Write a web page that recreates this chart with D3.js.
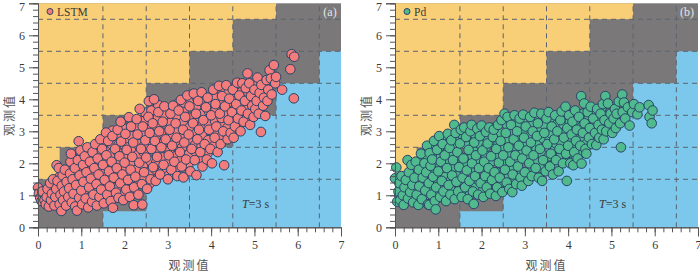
<!DOCTYPE html>
<html>
<head>
<meta charset="utf-8">
<script src="https://cdnjs.cloudflare.com/ajax/libs/d3/7.8.5/d3.min.js"></script>
<style>
  body { margin: 0; background: #fff; }
  text { font-family: "Liberation Serif", serif; fill: #3a3a3a; }
  .cjk { font-family: "Noto Sans CJK SC", sans-serif; font-size: 12px; fill: #555; letter-spacing: 2px; }
  .axis path, .axis line { stroke: #555; }
</style>
</head>
<body>
<svg id="chart" width="700" height="272"></svg>
<script>
var lstmPoints = [
  [0.0,1.24],[0.02,1.05],[0.05,0.92],[0.08,0.82],[0.1,1.12],[0.15,0.85],[0.18,0.72],[0.2,0.95],[0.22,1.2],[0.25,0.65],
  [0.28,1.38],[0.3,0.85],[0.32,1.05],[0.35,1.5],[0.38,0.68],[0.4,0.95],[0.42,1.2],[0.43,1.94],[0.45,1.45],[0.48,1.85],
  [0.5,0.72],[0.52,1.02],[0.54,0.51],[0.55,1.3],[0.57,1.62],[0.58,0.85],[0.6,1.12],[0.62,1.8],[0.65,0.68],[0.66,1.42],
  [0.7,0.95],[0.72,1.22],[0.74,1.68],[0.75,2.05],[0.76,2.3],[0.78,0.78],[0.8,1.5],[0.82,1.05],[0.85,1.85],[0.86,0.65],
  [0.88,1.32],[0.9,0.52],[0.92,2.1],[0.94,2.69],[0.95,0.92],[0.96,1.62],[0.98,2.4],[1.0,1.15],[1.02,0.72],[1.04,1.95],
  [1.05,1.42],[1.08,2.22],[1.1,0.9],[1.12,1.72],[1.14,2.5],[1.16,0.62],[1.18,1.25],[1.2,2.05],[1.22,1.52],[1.25,0.8],
  [1.26,2.35],[1.28,1.02],[1.3,1.85],[1.32,2.6],[1.35,1.35],[1.36,0.68],[1.38,2.15],[1.4,1.65],[1.42,0.95],[1.44,2.75],
  [1.46,1.18],[1.48,2.45],[1.5,1.95],[1.52,0.75],[1.54,1.48],[1.57,2.96],[1.58,2.25],[1.6,1.02],[1.62,2.7],[1.64,1.75],
  [1.66,1.28],[1.68,0.82],[1.7,2.05],[1.72,2.85],[1.73,0.61],[1.75,1.55],[1.78,2.45],[1.8,1.08],[1.82,1.85],[1.84,3.05],
  [1.86,0.92],[1.88,2.22],[1.9,1.38],[1.91,3.3],[1.92,2.68],[1.95,1.65],[1.97,0.85],[2.0,2.02],[2.02,2.92],[2.04,1.18],
  [2.05,2.42],[2.08,1.48],[2.1,3.44],[2.12,0.95],[2.14,1.8],[2.15,3.15],[2.18,2.2],[2.2,2.65],[2.21,0.69],[2.22,1.25],
  [2.25,1.58],[2.28,3.38],[2.3,2.9],[2.32,1.02],[2.34,2.02],[2.35,3.7],[2.38,2.45],[2.4,1.35],[2.41,0.71],[2.42,3.15],
  [2.45,1.72],[2.48,2.72],[2.5,2.18],[2.52,1.2],[2.55,3.45],[2.56,3.94],[2.58,2.95],[2.6,1.5],[2.62,2.45],[2.65,3.25],
  [2.66,1.88],[2.68,4.0],[2.7,2.7],[2.72,1.45],[2.75,2.2],[2.78,3.6],[2.8,3.0],[2.82,1.65],[2.85,2.5],[2.88,3.3],
  [2.9,1.95],[2.92,3.78],[2.95,2.75],[3.0,1.5],[3.02,2.25],[3.04,3.05],[3.06,3.55],[3.08,1.8],[3.1,2.55],[3.12,3.8],
  [3.15,2.05],[3.18,3.25],[3.2,2.8],[3.22,1.6],[3.25,3.65],[3.28,2.35],[3.3,3.98],[3.32,1.9],[3.35,3.05],[3.36,1.56],
  [3.38,2.65],[3.4,3.45],[3.42,2.12],[3.45,4.12],[3.48,2.9],[3.5,3.78],[3.52,1.75],[3.55,2.45],[3.58,3.25],[3.6,4.18],
  [3.62,2.1],[3.65,3.55],[3.66,1.63],[3.68,2.75],[3.7,3.95],[3.72,3.05],[3.75,2.35],[3.78,4.22],[3.8,1.9],[3.82,3.35],
  [3.85,2.6],[3.88,3.75],[3.9,2.12],[3.92,4.05],[3.95,3.05],[3.98,2.45],[4.0,3.5],[4.02,2.0],[4.05,4.3],[4.08,2.8],
  [4.1,3.85],[4.12,3.15],[4.15,2.35],[4.18,4.42],[4.2,3.55],[4.22,2.6],[4.25,4.1],[4.28,3.0],[4.3,1.94],[4.32,3.78],
  [4.35,4.44],[4.38,2.75],[4.4,3.35],[4.42,4.02],[4.45,2.95],[4.48,3.6],[4.5,4.3],[4.52,2.8],[4.55,3.15],[4.58,3.85],
  [4.6,4.52],[4.62,3.4],[4.65,4.12],[4.68,3.0],[4.7,3.65],[4.72,4.5],[4.75,3.3],[4.78,3.95],[4.8,4.35],[4.84,4.81],
  [4.85,3.55],[4.88,4.5],[4.9,3.2],[4.92,4.1],[4.95,3.8],[4.98,3.45],[5.0,4.3],[5.02,3.7],[5.05,3.95],[5.07,4.68],
  [5.1,3.55],[5.12,4.2],[5.15,2.98],[5.16,4.45],[5.2,3.8],[5.22,4.05],[5.25,3.48],[5.28,4.6],[5.3,3.95],[5.32,4.3],
  [5.35,4.91],[5.38,4.65],[5.4,4.15],[5.45,5.07],[5.48,4.5],[5.5,4.7],[5.64,4.3],[5.83,4.94],[5.86,5.41],[5.91,4.03],
  [5.92,5.33]
];
// points hidden inside the dense part of the cloud, drawn underneath
var lstmInner = [
  [0.12,1.0],[0.27,0.78],[0.3,1.22],[0.45,0.82],[0.47,1.08],[0.5,1.58],[0.62,0.95],[0.63,1.25],[0.65,1.55],[0.68,0.8],
  [0.77,1.1],[0.8,1.35],[0.82,1.72],[0.84,2.0],[0.85,0.82],[0.92,1.0],[0.93,1.25],[0.95,1.48],[0.97,1.8],[0.99,2.2],
  [1.07,0.8],[1.08,1.05],[1.09,1.3],[1.1,1.58],[1.11,1.85],[1.12,2.35],[1.22,0.95],[1.23,1.2],[1.24,1.42],[1.25,1.7],
  [1.26,1.98],[1.27,2.22],[1.28,2.48],[1.37,0.85],[1.38,1.1],[1.39,1.55],[1.4,1.82],[1.41,2.05],[1.42,2.32],[1.43,2.6],
  [1.52,1.02],[1.53,1.28],[1.54,1.7],[1.55,2.1],[1.56,2.38],[1.57,2.68],[1.58,2.85],[1.67,1.02],[1.68,1.5],[1.69,1.82],
  [1.7,2.3],[1.71,2.58],[1.72,3.02],[1.82,1.25],[1.83,1.62],[1.84,2.05],[1.85,2.35],[1.86,2.58],[1.87,2.88],[1.97,1.05],
  [1.98,1.4],[1.99,1.82],[2.0,2.25],[2.01,2.55],[2.02,2.78],[2.03,3.08],[2.12,1.18],[2.13,1.62],[2.14,2.02],[2.15,2.4],
  [2.16,2.85],[2.17,3.28],[2.27,1.35],[2.28,1.8],[2.29,2.25],[2.3,2.6],[2.31,3.12],[2.42,1.55],[2.43,1.95],[2.44,2.35],
  [2.45,2.55],[2.46,2.95],[2.47,3.35],[2.48,3.58],[2.57,1.35],[2.58,1.72],[2.59,2.08],[2.6,2.72],[2.61,3.12],[2.62,3.65],
  [2.72,1.8],[2.73,2.02],[2.74,2.48],[2.75,2.88],[2.76,3.15],[2.77,3.42],[2.78,3.82],[2.87,1.75],[2.88,2.18],[2.89,2.62],
  [2.9,2.92],[2.91,3.52],[3.02,1.62],[3.03,2.05],[3.04,2.42],[3.05,2.68],[3.06,2.92],[3.07,3.28],[3.08,3.68],[3.17,1.78],
  [3.18,2.22],[3.19,2.58],[3.2,3.02],[3.21,3.48],[3.22,3.85],[3.32,2.15],[3.33,2.5],[3.34,2.82],[3.35,3.28],[3.36,3.62],
  [3.37,3.9],[3.47,1.92],[3.48,2.28],[3.49,2.68],[3.5,3.12],[3.51,3.42],[3.52,4.0],[3.62,2.38],[3.63,2.58],[3.64,2.92],
  [3.65,3.28],[3.66,3.78],[3.67,4.05],[3.77,2.15],[3.78,2.55],[3.79,2.88],[3.8,3.18],[3.81,3.55],[3.82,3.9],[3.92,2.32],
  [3.93,2.72],[3.94,3.25],[3.95,3.62],[3.96,3.9],[4.07,2.55],[4.08,3.0],[4.09,3.32],[4.1,3.65],[4.11,4.05],[4.22,2.82],
  [4.23,3.22],[4.24,3.42],[4.25,3.88],[4.26,4.28],[4.37,2.92],[4.38,3.12],[4.39,3.58],[4.4,3.9],[4.41,4.25],[4.52,3.0],
  [4.53,3.35],[4.54,3.68],[4.55,4.02],[4.56,4.4],[4.67,3.22],[4.68,3.5],[4.69,3.8],[4.7,4.22],[4.82,3.42],[4.83,3.72],
  [4.84,4.0],[4.85,4.22],[4.97,3.62],[4.98,4.12],[4.99,4.42],[5.12,3.72],[5.13,3.98],[5.14,4.35]
];
var pdPoints = [
  [0.0,1.53],[0.03,1.87],[0.05,0.8],[0.08,1.12],[0.1,1.38],[0.12,0.85],[0.15,1.6],[0.18,1.0],[0.2,0.7],[0.22,1.25],
  [0.25,1.48],[0.29,2.1],[0.3,0.9],[0.32,1.72],[0.35,1.1],[0.38,1.95],[0.4,1.32],[0.42,0.78],[0.45,1.55],[0.48,2.05],
  [0.5,1.02],[0.54,0.7],[0.55,1.8],[0.56,1.28],[0.6,2.3],[0.62,0.88],[0.64,1.55],[0.68,2.0],[0.7,1.15],[0.72,1.72],
  [0.74,2.55],[0.76,0.72],[0.78,1.38],[0.79,0.7],[0.8,2.32],[0.82,1.92],[0.84,1.02],[0.86,2.12],[0.88,1.58],[0.9,2.7],
  [0.92,0.82],[0.94,0.56],[0.95,1.25],[0.97,2.42],[1.0,1.75],[1.02,2.85],[1.04,0.95],[1.06,2.05],[1.08,1.45],[1.1,2.6],
  [1.12,1.12],[1.15,2.25],[1.18,0.82],[1.2,1.85],[1.22,2.92],[1.24,1.32],[1.26,2.48],[1.28,1.02],[1.3,2.72],[1.32,1.62],
  [1.34,2.1],[1.37,3.2],[1.38,0.88],[1.4,2.95],[1.42,1.42],[1.44,2.35],[1.46,1.12],[1.48,1.88],[1.5,2.62],[1.52,3.05],
  [1.54,0.95],[1.56,1.55],[1.58,2.15],[1.6,3.12],[1.62,1.25],[1.64,2.82],[1.66,1.78],[1.68,0.88],[1.7,2.42],[1.72,1.45],
  [1.74,3.0],[1.77,3.2],[1.78,2.0],[1.8,1.12],[1.82,0.73],[1.83,2.65],[1.85,1.6],[1.87,2.25],[1.9,3.08],[1.92,1.02],
  [1.94,1.85],[1.96,2.85],[1.98,1.38],[2.0,3.18],[2.02,2.4],[2.04,0.95],[2.06,2.05],[2.08,1.6],[2.1,2.98],[2.12,1.25],
  [2.14,2.62],[2.16,1.85],[2.18,3.12],[2.2,1.05],[2.22,2.22],[2.24,1.48],[2.26,2.82],[2.28,3.05],[2.3,1.72],[2.33,0.98],
  [2.34,2.45],[2.36,1.25],[2.38,3.2],[2.4,2.02],[2.42,1.55],[2.44,2.7],[2.46,3.35],[2.48,1.1],[2.5,2.25],[2.53,3.55],
  [2.54,1.8],[2.56,2.95],[2.58,1.4],[2.6,3.45],[2.62,2.5],[2.64,1.2],[2.66,2.05],[2.68,3.2],[2.71,1.1],[2.72,1.65],
  [2.74,2.75],[2.76,3.5],[2.78,2.25],[2.8,1.35],[2.82,3.0],[2.84,1.9],[2.86,2.55],[2.88,3.4],[2.9,1.55],[2.93,1.3],
  [2.94,2.15],[2.96,3.52],[2.98,2.8],[3.0,1.72],[3.02,3.15],[3.04,2.4],[3.08,1.45],[3.1,2.0],[3.12,3.45],[3.14,2.65],
  [3.16,1.6],[3.18,3.0],[3.2,2.25],[3.22,3.58],[3.25,1.85],[3.28,2.85],[3.3,3.25],[3.32,1.55],[3.35,2.45],[3.38,3.55],
  [3.4,1.45],[3.42,2.1],[3.45,2.95],[3.48,1.75],[3.5,3.4],[3.52,2.6],[3.55,3.6],[3.58,1.9],[3.6,2.3],[3.62,3.15],
  [3.65,1.65],[3.68,2.75],[3.7,3.5],[3.72,2.1],[3.75,3.0],[3.78,1.75],[3.8,2.45],[3.82,3.35],[3.85,3.62],[3.88,2.0],
  [3.9,2.8],[3.94,3.77],[3.95,2.3],[3.97,1.45],[3.98,3.1],[4.0,2.55],[4.02,3.5],[4.05,2.0],[4.08,2.9],[4.1,3.3],
  [4.12,1.94],[4.14,2.35],[4.16,3.65],[4.18,2.7],[4.2,3.05],[4.22,2.15],[4.25,3.45],[4.28,2.55],[4.3,4.1],[4.31,1.99],
  [4.34,2.95],[4.37,3.87],[4.38,3.25],[4.4,2.45],[4.42,2.3],[4.45,3.6],[4.48,2.8],[4.5,3.1],[4.52,3.77],[4.55,2.6],
  [4.58,3.4],[4.62,2.95],[4.65,2.57],[4.67,3.7],[4.7,3.2],[4.72,2.8],[4.75,3.55],[4.78,3.05],[4.8,3.85],[4.82,2.75],
  [4.84,3.35],[4.86,4.1],[4.88,3.0],[4.92,3.87],[4.95,3.25],[4.98,3.55],[5.02,2.95],[5.05,3.4],[5.08,3.7],[5.1,3.1],
  [5.12,3.55],[5.17,3.93],[5.2,3.25],[5.22,2.5],[5.25,4.15],[5.26,3.6],[5.29,3.9],[5.32,3.4],[5.38,3.75],[5.42,3.18],
  [5.48,3.6],[5.52,3.85],[5.6,3.53],[5.65,3.75],[5.86,3.82],[5.88,3.45],[5.93,3.25],[5.95,3.65]
];
var pdInner = [
  [0.1,1.0],[0.14,1.22],[0.24,0.88],[0.26,1.08],[0.28,1.62],[0.38,0.95],[0.4,1.18],[0.42,1.5],[0.44,1.78],[0.53,0.85],
  [0.54,1.15],[0.56,1.42],[0.58,1.68],[0.6,1.95],[0.62,2.12],[0.68,0.92],[0.7,1.32],[0.72,1.55],[0.74,1.88],[0.76,2.2],
  [0.82,1.15],[0.84,1.3],[0.86,1.75],[0.88,2.0],[0.9,2.28],[0.92,2.5],[0.98,0.98],[1.0,1.38],[1.02,1.62],[1.04,1.88],
  [1.06,2.2],[1.08,2.42],[1.1,2.75],[1.13,0.95],[1.15,1.3],[1.17,1.58],[1.19,2.02],[1.21,2.35],[1.23,2.62],[1.28,1.2],
  [1.3,1.48],[1.32,1.85],[1.34,2.28],[1.36,2.52],[1.38,2.82],[1.43,1.02],[1.45,1.6],[1.47,2.02],[1.49,2.22],[1.51,2.78],
  [1.53,2.92],[1.58,1.05],[1.6,1.38],[1.62,1.72],[1.64,1.98],[1.66,2.55],[1.68,2.98],[1.73,1.02],[1.75,1.25],[1.77,1.72],
  [1.79,2.22],[1.81,2.48],[1.83,2.92],[1.88,1.28],[1.9,1.5],[1.92,2.05],[1.94,2.62],[1.96,3.05],[2.03,1.15],[2.05,1.42],
  [2.07,1.8],[2.09,2.28],[2.11,2.52],[2.13,2.82],[2.18,1.35],[2.2,1.65],[2.22,2.05],[2.24,2.62],[2.26,3.1],[2.33,1.38],
  [2.35,1.72],[2.37,2.25],[2.39,2.6],[2.41,2.95],[2.48,1.42],[2.5,1.65],[2.52,2.02],[2.54,2.48],[2.56,2.72],[2.58,3.22],
  [2.63,1.62],[2.65,1.85],[2.67,2.28],[2.69,2.52],[2.71,2.95],[2.73,3.32],[2.78,1.5],[2.8,2.02],[2.82,2.48],[2.84,2.78],
  [2.86,3.2],[2.93,1.72],[2.95,2.38],[2.97,2.62],[2.99,3.02],[3.01,3.32],[3.08,1.72],[3.1,2.22],[3.12,2.85],[3.14,3.25],
  [3.23,1.68],[3.25,2.05],[3.27,2.45],[3.29,2.68],[3.31,3.02],[3.33,3.42],[3.38,1.85],[3.4,2.28],[3.42,2.78],[3.44,3.22],
  [3.53,2.02],[3.55,2.22],[3.57,2.72],[3.59,2.95],[3.61,3.42],[3.68,1.98],[3.7,2.45],[3.72,2.62],[3.74,3.22],[3.83,2.22],
  [3.85,2.62],[3.87,2.95],[3.89,3.22],[3.91,3.55],[3.98,2.12],[4.0,2.32],[4.02,2.82],[4.04,3.28],[4.13,2.55],[4.15,2.88],
  [4.17,3.22],[4.19,3.5],[4.28,2.38],[4.3,2.75],[4.32,3.15],[4.34,3.55],[4.43,2.62],[4.45,3.0],[4.47,3.38],[4.58,2.78],
  [4.6,3.22],[4.62,3.55],[4.73,3.0],[4.75,3.38],[4.77,3.72],[4.9,3.12],[4.92,3.5],[5.05,3.22],[5.07,3.55]
];
var majorTicks = [0, 1, 2, 3, 4, 5, 6, 7];
var minorTicks = d3.range(0, 35).map(function(d) { return d * 0.2; });
var gridLines = [1.5, 2.5, 3.5, 4.5, 5.5, 6.5];
var yellowX = [0, 0.5, 1.5, 2.5, 3.5, 4.5, 5.5];
var yellowY = [1.5, 2.5, 3.5, 4.5, 5.5, 6.5, 6.5];
var blueX = [1.5, 2.5, 3.5, 4.5, 5.5, 6.5, 7];
var blueY = [0.5, 1.5, 2.5, 3.5, 4.5, 5.5, 5.5];

var svg = d3.select("#chart");

function drawPanel(opts) {
  var x = d3.scaleLinear().domain([0, 7]).range([opts.left, opts.left + 303]);
  var y = d3.scaleLinear().domain([0, 7]).range([227.3, 3.3]);

  var g = svg.append("g");

  g.append("rect")
    .attr("x", x(0)).attr("y", y(7))
    .attr("width", x(7) - x(0)).attr("height", y(0) - y(7))
    .attr("fill", "#7b787a");

  var yellow = d3.area().curve(d3.curveStepAfter)
    .x(function(d) { return x(yellowX[d]); })
    .y0(function(d) { return y(yellowY[d]); })
    .y1(y(7));
  g.append("path").attr("d", yellow(d3.range(yellowX.length))).attr("fill", "#f8cf76");

  var blue = d3.area().curve(d3.curveStepAfter)
    .x(function(d) { return x(blueX[d]); })
    .y0(y(0))
    .y1(function(d) { return y(blueY[d]); });
  g.append("path").attr("d", blue(d3.range(blueX.length))).attr("fill", "#7bc8ec");

  g.selectAll("line.gx").data(gridLines).enter().append("line")
    .attr("x1", x).attr("x2", x).attr("y1", y(0)).attr("y2", y(7))
    .attr("stroke", "#5b6470").attr("stroke-dasharray", "5,4");
  g.selectAll("line.gy").data(gridLines).enter().append("line")
    .attr("x1", x(0)).attr("x2", x(7)).attr("y1", y).attr("y2", y)
    .attr("stroke", "#5b6470").attr("stroke-dasharray", "5,4");

  g.selectAll("circle.pt").data(opts.inner.concat(opts.points)).enter().append("circle")
    .attr("class", "pt")
    .attr("cx", function(d) { return x(d[0]); })
    .attr("cy", function(d) { return y(d[1]); })
    .attr("r", 4.8)
    .attr("fill", opts.color)
    .attr("stroke", "#2a4468")
    .attr("stroke-width", 1);

  // minor ticks first, then the labelled ones
  g.append("g").attr("class", "axis").attr("transform", "translate(0," + y(0) + ")")
    .call(d3.axisBottom(x).tickValues(minorTicks).tickSize(5).tickFormat(""));
  g.append("g").attr("class", "axis").attr("transform", "translate(" + x(0) + ",0)")
    .call(d3.axisLeft(y).tickValues(minorTicks).tickSize(5).tickFormat(""));
  var xAxis = g.append("g").attr("class", "axis").attr("transform", "translate(0," + y(0) + ")")
    .call(d3.axisBottom(x).tickValues(majorTicks).tickSize(9).tickPadding(4).tickFormat(d3.format("d")));
  var yAxis = g.append("g").attr("class", "axis").attr("transform", "translate(" + x(0) + ",0)")
    .call(d3.axisLeft(y).tickValues(majorTicks).tickSize(9).tickPadding(4).tickFormat(d3.format("d")));
  xAxis.selectAll("text").style("font-size", "12px").style("font-family", '"Liberation Serif", serif');
  yAxis.selectAll("text").style("font-size", "12px").style("font-family", '"Liberation Serif", serif');
  // the top label sits right against the page edge, keep it on the page
  yAxis.selectAll("text").filter(function(d) { return d === 7; }).attr("dy", "0.62em");

  g.append("text").attr("class", "cjk")
    .attr("x", x(3.5)).attr("y", 270).attr("text-anchor", "middle").text("观测值");
  g.append("text").attr("class", "cjk")
    .attr("transform", "translate(" + (opts.left - 24) + ",115) rotate(-90)")
    .attr("text-anchor", "middle").text("观测值");

  g.append("circle")
    .attr("cx", opts.left + 12).attr("cy", 11.5).attr("r", 3)
    .attr("fill", opts.color).attr("stroke", "#2a4468");
  g.append("text").attr("x", opts.left + 19).attr("y", 15.5)
    .style("font-size", "11.5px").text(opts.name);
  g.append("text").attr("x", opts.left + 292).attr("y", 16)
    .attr("text-anchor", "middle").style("font-size", "12px").style("fill", "#e4e4e4").text(opts.tag);

  var period = g.append("text").attr("x", opts.left + 204).attr("y", 207.5).style("font-size", "12px");
  period.append("tspan").style("font-style", "italic").text("T");
  period.append("tspan").text("=3 s");
}

drawPanel({left: 38, points: lstmPoints, inner: lstmInner, color: "#f37c7c", name: "LSTM", tag: "(a)"});
drawPanel({left: 395, points: pdPoints, inner: pdInner, color: "#50b98d", name: "Pd", tag: "(b)"});
</script>
</body>
</html>
